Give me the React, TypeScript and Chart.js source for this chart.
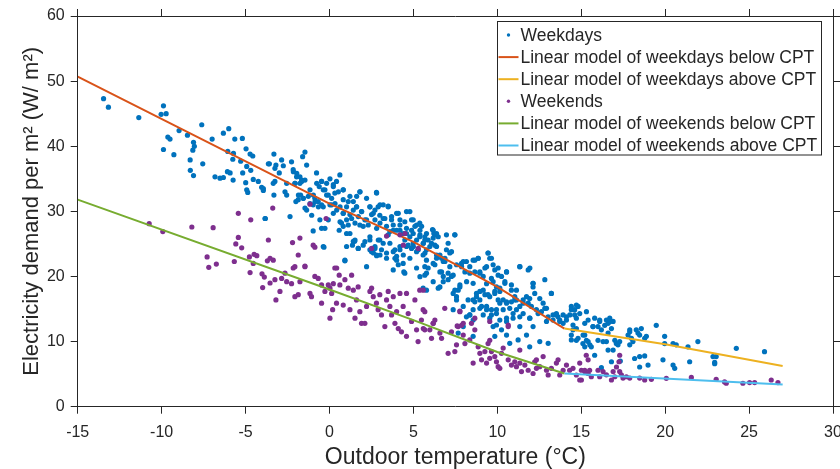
import React, { useEffect, useRef } from "react";
import { Chart, registerables } from "chart.js";

Chart.register(...registerables);

const FONT = "'Liberation Sans', Arial, Helvetica, sans-serif";
const INK = "#262626";

const xTickValues = [-15, -10, -5, 0, 5, 10, 15, 20, 25, 30];
const yTickValues = [0, 10, 20, 30, 40, 50, 60];

const weekdayPoints: [number, number][] = [
  [-13.46, 47.3], [-13.17, 46.0], [-11.36, 44.4], [-9.89, 46.2], [-10.03, 44.9], [-9.73, 45.0], [-8.96, 42.4], [-8.46, 41.7],
  [-7.61, 43.3], [-9.63, 41.4], [-9.5, 41.1], [-9.89, 39.5], [-9.27, 38.7], [-8.1, 40.6], [-8.05, 40.0], [-8.14, 39.4],
  [-8.3, 37.9], [-7.55, 37.3], [-8.29, 36.3], [-8.1, 35.5], [-6.99, 41.1], [-6.32, 42.0], [-6.0, 42.7], [-5.64, 41.1],
  [-5.19, 41.2], [-6.06, 39.2], [-5.72, 38.9], [-5.76, 38.0], [-4.97, 39.6], [-4.73, 38.8], [-4.57, 38.5], [-5.29, 37.7],
  [-6.82, 35.3], [-6.52, 35.1], [-6.32, 35.2], [-6.08, 36.1], [-5.92, 35.9], [-5.74, 34.8], [-5.17, 35.9], [-4.93, 36.9],
  [-4.69, 36.3], [-4.99, 34.4], [-4.93, 33.3], [-4.87, 32.9], [-4.54, 34.9], [-4.24, 34.6], [-4.04, 33.7], [-3.94, 33.2],
  [-3.64, 37.3], [-3.82, 28.9],
  [-3.31, 38.8], [-3.58, 37.3], [-3.19, 37.1], [-3.25, 36.6], [-2.85, 37.9], [-2.75, 37.0], [-2.99, 35.9], [-2.26, 37.6],
  [-2.16, 36.4], [-1.96, 35.3], [-2.06, 34.3], [-1.6, 38.4], [-1.46, 39.1], [-1.36, 37.1], [-1.66, 34.8], [-1.76, 34.3],
  [-1.72, 32.5], [-1.56, 32.0], [-1.86, 31.8], [-2.0, 31.5], [-2.55, 34.3], [-2.55, 32.5], [-2.65, 33.0], [-3.25, 34.6],
  [-3.35, 34.3], [-3.94, 33.5], [-3.84, 28.9], [-3.31, 32.5], [-2.35, 29.2], [-1.46, 30.5], [-0.97, 31.0], [-0.87, 32.0],
  [-0.77, 35.9], [-0.47, 34.6], [-0.61, 33.8], [-0.37, 33.3], [-0.17, 34.3], [0.03, 35.0], [0.23, 33.8], [0.62, 35.6],
  [0.42, 34.6], [0.82, 33.3], [0.32, 32.8], [-0.17, 32.5], [-0.67, 31.5], [-0.37, 30.7], [0.13, 31.0], [0.23, 29.7],
  [-0.07, 28.7], [-0.47, 27.4], [-0.97, 27.0], [-0.37, 24.6], [0.82, 31.8], [1.02, 30.7], [0.82, 29.7], [0.72, 28.2],
  [0.58, 27.1], [1.22, 32.3], [1.42, 31.5], [1.81, 33.0], [2.21, 32.0], [2.8, 32.9], [1.61, 30.7], [1.91, 29.96],
  [1.32, 28.9], [1.12, 27.9], [1.02, 26.6], [1.52, 28.2], [1.81, 27.9], [2.21, 28.7], [2.61, 29.7], [2.41, 30.7],
  [2.9, 30.7], [3.2, 31.0], [3.5, 30.8], [3.0, 29.4], [3.3, 28.9], [3.7, 28.7], [4.0, 29.7], [4.2, 28.7],
  [4.49, 28.4], [4.79, 29.96], [4.99, 28.7], [5.19, 27.9], [5.38, 28.2], [4.89, 27.1], [4.59, 26.6], [4.2, 27.1],
  [3.8, 27.1], [3.5, 26.4], [3.0, 25.6], [2.71, 24.6], [2.41, 24.1], [2.01, 24.8], [1.71, 24.3], [1.42, 25.4],
  [1.02, 24.6], [2.21, 21.5], [2.8, 23.3], [3.4, 22.8], [3.8, 23.8], [4.2, 24.1], [4.59, 24.6], [4.99, 25.1],
  [5.38, 26.1], [5.68, 25.6], [4.0, 22.5], [4.39, 22.0], [4.79, 22.8], [5.19, 23.8], [5.58, 23.3], [5.78, 22.5],
  [5.68, 21.5], [3.8, 21.0], [4.43, 20.7], [5.58, 18.2], [5.78, 20.5], [0.92, 22.5], [2.41, 25.6], [3.1, 24.1],
  [-0.33, 24.5], [0.92, 22.4], [1.37, 24.8], [1.5, 25.4], [2.62, 23.6], [2.81, 23.2], [3.9, 22.8], [4.1, 21.8],
  [4.49, 20.5], [5.19, 21.3], [5.0, 24.6],
  [-2.15, 36.1], [-1.95, 35.85], [-1.76, 35.3], [-2.05, 34.3], [-1.66, 34.6], [-1.46, 34.8], [-1.85, 32.5], [-1.56, 32.0],
  [-1.26, 32.3], [-1.16, 31.2], [-0.86, 31.5], [-0.66, 30.7], [-0.47, 31.0], [-0.76, 34.3], [-0.47, 34.6], [-0.27, 33.3],
  [-0.07, 32.5], [0.13, 32.0], [0.03, 31.0], [0.33, 31.2], [0.43, 30.2], [0.63, 30.7], [0.82, 29.7], [0.63, 28.4],
  [0.82, 27.7], [1.02, 28.7], [1.22, 29.5], [1.42, 30.2], [1.62, 30.7], [1.72, 29.2], [1.92, 29.96], [2.11, 28.7],
  [2.01, 27.7], [2.31, 27.9], [2.51, 29.5], [2.71, 28.7], [2.81, 27.4], [3.01, 28.2], [3.2, 28.9], [3.4, 27.7],
  [3.6, 26.9], [3.8, 27.9], [4.0, 27.1], [4.2, 27.9], [4.4, 26.6], [4.59, 27.4], [4.79, 26.1], [4.99, 26.6],
  [5.19, 25.6], [5.39, 26.4], [5.59, 25.1], [4.49, 25.6], [4.69, 24.8], [4.89, 24.3], [4.2, 24.6], [3.9, 24.1],
  [3.6, 25.1], [3.2, 25.1], [2.91, 25.6], [2.71, 24.3], [2.51, 23.8], [3.01, 23.3], [3.4, 23.6], [4.0, 23.1],
  [4.4, 23.3], [5.29, 24.1], [5.69, 23.6], [5.98, 24.6], [6.18, 25.9], [6.38, 26.6], [5.09, 27.7], [4.89, 28.7],
  [5.49, 27.7], [5.78, 26.6], [-1.16, 33.3], [-0.96, 32.5], [-1.36, 30.2], [-1.06, 29.4], [-0.57, 28.7], [-0.27, 27.4],
  [1.22, 26.6], [1.52, 25.6], [1.72, 24.3], [2.11, 25.35], [2.41, 26.1], [1.12, 31.5], [0.82, 33.3], [0.53, 33.0],
  [0.23, 34.1], [1.62, 32.3], [1.82, 33.0], [2.81, 32.8], [2.41, 30.7], [2.71, 30.2], [3.01, 31.0], [3.5, 30.7],
  [4.1, 29.7], [4.59, 29.96], [3.7, 29.2],
  [5.39, 27.1], [5.68, 26.1], [5.59, 25.1], [5.88, 25.6], [6.14, 27.2], [6.22, 26.6], [5.78, 24.1], [6.28, 24.8],
  [6.48, 26.1], [6.97, 26.4], [7.47, 26.4], [7.07, 25.1], [7.27, 23.8], [6.38, 23.3], [6.68, 22.8], [6.88, 22.3],
  [7.17, 21.5], [6.18, 22.0], [5.88, 21.3], [5.68, 20.2], [6.58, 20.7], [6.78, 20.0], [7.07, 19.5], [7.37, 20.2],
  [7.47, 17.9], [7.57, 16.9], [7.77, 18.4], [7.87, 22.0], [8.16, 22.3], [8.36, 21.5], [8.56, 22.5], [8.86, 22.8],
  [9.45, 23.6], [9.55, 22.8], [8.66, 20.7], [8.96, 20.5], [9.26, 21.3], [9.75, 21.8], [9.85, 21.0], [10.05, 20.2],
  [9.65, 19.7], [9.36, 18.9], [9.16, 17.9], [8.76, 17.4], [8.56, 16.4], [8.96, 16.4], [9.45, 17.2], [9.85, 17.7],
  [10.15, 18.2], [10.55, 20.7], [10.45, 19.2], [10.84, 18.7], [11.14, 17.9], [11.34, 21.5], [11.84, 21.0], [12.13, 18.95],
  [12.23, 17.4], [11.93, 16.6], [11.54, 16.4], [11.04, 16.4], [10.55, 16.1], [10.15, 15.9], [9.95, 14.9], [9.65, 14.1],
  [9.36, 14.9], [8.96, 15.1], [8.56, 14.9], [8.36, 14.1], [8.16, 13.8], [7.97, 12.3], [9.75, 12.3], [10.25, 11.8],
  [10.55, 11.0], [10.74, 9.73], [11.24, 10.25], [11.74, 11.0], [12.13, 12.3], [12.43, 14.3], [12.73, 15.9], [12.93, 15.1],
  [13.22, 17.4], [13.32, 13.3], [13.52, 14.1], [13.72, 13.3], [14.12, 13.8], [14.41, 14.9], [14.61, 14.1], [14.81, 15.4],
  [14.51, 11.8], [14.41, 10.25], [14.81, 10.5], [13.03, 9.73], [12.53, 10.0], [11.93, 9.2], [11.34, 12.3], [9.85, 10.8],
  [8.56, 10.8], [7.67, 11.3], [5.78, 17.9], [5.39, 19.97], [6.58, 18.4], [10.55, 13.6], [10.94, 14.3], [11.54, 14.3],
  [11.93, 13.6], [7.37, 14.9],
  [6.18, 27.1], [6.28, 26.4], [6.08, 25.1], [6.38, 24.6], [6.58, 23.3], [6.88, 22.8], [6.78, 22.3], [6.97, 24.1],
  [7.17, 23.6], [6.38, 22.8], [6.28, 21.8], [6.68, 20.7], [7.07, 20.5], [6.18, 19.2], [6.78, 19.2], [6.48, 18.2],
  [7.47, 26.4], [7.27, 20.0], [7.57, 21.8], [7.87, 21.5], [7.97, 22.3], [8.07, 20.7], [7.77, 18.7], [7.67, 17.9],
  [8.17, 19.2], [8.36, 20.5], [8.56, 18.95], [8.66, 22.5], [8.86, 22.8], [8.96, 20.7], [9.16, 20.0], [9.36, 21.5],
  [9.45, 23.6], [9.65, 22.8], [9.75, 19.2], [9.95, 18.4], [10.15, 17.7], [9.85, 17.4], [10.05, 21.3], [10.25, 20.0],
  [10.45, 18.95], [10.55, 20.7], [10.84, 17.9], [11.04, 16.9], [11.14, 16.4], [10.84, 16.1], [10.55, 15.9], [10.35, 16.4],
  [10.05, 16.4], [9.55, 16.9], [9.26, 17.2], [8.96, 17.7], [8.76, 16.9], [8.66, 16.1], [9.06, 15.4], [9.36, 15.4],
  [9.65, 14.9], [9.95, 14.3], [10.35, 14.9], [10.74, 15.1], [11.14, 14.9], [11.34, 15.4], [11.54, 15.9], [11.74, 16.9],
  [11.84, 15.9], [12.03, 15.4], [12.33, 14.9], [12.63, 14.6], [12.83, 15.1], [12.53, 16.6], [12.13, 18.4], [11.34, 21.5],
  [11.94, 21.3], [12.13, 18.95], [12.83, 19.5], [13.22, 17.4], [13.03, 13.8], [13.32, 14.1], [13.62, 13.8], [13.72, 13.1],
  [14.12, 13.3], [14.32, 14.1], [14.61, 14.9], [14.71, 13.6], [14.51, 12.55], [13.92, 12.8], [13.52, 14.3], [12.93, 13.1],
  [11.94, 13.6], [11.34, 13.8], [10.94, 13.6], [10.55, 13.1], [10.15, 13.3], [9.95, 12.55], [9.55, 13.6], [9.16, 14.1],
  [8.56, 13.3], [8.36, 14.1], [8.26, 16.4], [7.97, 15.4], [7.57, 16.4], [7.37, 17.4],
  [14.91, 14.3], [15.21, 12.8], [15.41, 13.3], [15.31, 14.6], [15.7, 12.3], [15.8, 13.6], [16.0, 12.3], [16.1, 13.1],
  [16.2, 11.8], [16.5, 13.3], [16.6, 12.8], [16.7, 13.6], [16.8, 12.0], [16.9, 13.1], [15.21, 11.0], [15.1, 9.7],
  [15.41, 10.0], [15.6, 9.2], [16.0, 10.2], [16.3, 10.0], [16.5, 10.0], [16.6, 8.7], [17.0, 10.2], [17.09, 9.7],
  [17.19, 9.5], [17.79, 11.0], [17.89, 11.8], [17.99, 10.5], [17.89, 9.5], [18.08, 10.0], [18.38, 11.3], [18.58, 12.0],
  [18.48, 11.0], [18.88, 10.8], [18.78, 10.5], [19.47, 12.5], [19.97, 10.8], [19.97, 9.7], [20.47, 9.7], [20.66, 9.5],
  [21.36, 9.2], [21.95, 10.0], [23.04, 7.7], [22.95, 6.8], [24.24, 8.96], [25.92, 8.45], [15.8, 7.9], [16.2, 6.0],
  [16.8, 6.9], [17.33, 7.0], [18.18, 7.4], [18.48, 6.1], [18.78, 7.8], [18.98, 6.4], [19.87, 7.2], [20.47, 6.4],
  [20.57, 5.9], [21.46, 6.9],
  [13.92, 14.1], [14.41, 15.4], [14.71, 15.6], [14.41, 11.0], [14.71, 10.2], [15.11, 11.0], [15.31, 10.2], [15.21, 9.2],
  [15.51, 9.5], [16.1, 13.3], [16.4, 12.5], [16.7, 13.05], [15.7, 12.3], [14.71, 12.0], [16.6, 11.3], [17.29, 10.0],
  [17.89, 11.5], [18.28, 11.8], [16.9, 8.7], [18.48, 7.7], [22.85, 7.7], [22.95, 6.6],
];

const weekendPoints: [number, number][] = [
  [-10.74, 28.1], [-9.93, 26.9], [-8.2, 27.6], [-6.93, 27.5], [-5.43, 29.7], [-4.69, 28.7], [-5.43, 26.0], [-5.58, 25.0],
  [-5.23, 24.4], [-7.29, 23.0], [-7.19, 21.4], [-6.74, 21.9], [-5.67, 22.3], [-4.77, 23.0], [-4.49, 23.4], [-4.33, 23.2],
  [-4.54, 22.0], [-4.73, 20.6], [-4.02, 20.4], [-3.88, 19.9], [-3.7, 22.4], [-3.98, 18.3], [-3.54, 19.0],
  [-3.25, 19.5], [-3.19, 16.4], [-2.85, 19.7], [-2.95, 17.7], [-2.65, 20.5], [-2.55, 19.2], [-2.26, 18.9], [-2.16, 21.3],
  [-2.06, 16.9], [-1.86, 17.2], [-1.76, 19.2], [-1.46, 21.5], [-1.16, 17.4], [-1.07, 16.9], [-0.87, 20.0], [-0.67, 19.7],
  [-0.47, 18.7], [-0.47, 15.9], [-0.27, 17.7], [-0.07, 18.7], [0.03, 18.2], [0.03, 13.6], [0.13, 17.4], [0.23, 18.9],
  [0.32, 21.3], [0.19, 14.9], [0.42, 15.9], [0.58, 20.2], [0.62, 18.7], [0.82, 15.6], [0.92, 19.5], [1.12, 18.2],
  [1.22, 14.9], [1.32, 20.2], [1.42, 17.9], [1.61, 16.4], [1.71, 18.4], [1.81, 14.6], [1.52, 13.6], [1.91, 12.8],
  [2.11, 12.8], [2.21, 15.4], [2.41, 17.7], [2.51, 18.2], [2.61, 16.9], [2.8, 15.9], [2.9, 14.9], [3.0, 17.2],
  [3.1, 14.1], [3.3, 12.3], [3.4, 16.4], [3.5, 17.7], [3.6, 15.4], [3.7, 14.1], [3.8, 16.9], [3.9, 12.8],
  [4.0, 14.6], [4.1, 12.0], [4.2, 17.4], [4.29, 11.5], [4.39, 15.4], [4.59, 17.4], [4.59, 10.8], [4.69, 14.3],
  [4.89, 13.1], [5.09, 16.4], [5.19, 11.8], [5.28, 10.0], [5.38, 17.9], [5.48, 13.3], [5.58, 14.9], [5.68, 11.8],
  [-3.38, 30.5], [-3.64, 25.6], [-2.2, 25.2], [-1.76, 25.9], [-0.97, 24.8], [-0.87, 24.5], [-0.2, 28.9], [-1.16, 31.1],
  [-1.86, 23.3], [-2.06, 21.5], [-3.54, 22.8], [-3.35, 22.5], [4.2, 26.4], [4.5, 26.6], [3.4, 26.2],
  [2.51, 24.3], [5.29, 24.3], [4.4, 24.8], [0.43, 21.3], [-1.46, 21.6],
  [7.77, 14.6], [8.66, 13.6], [7.97, 12.8], [6.28, 13.3], [6.18, 12.8], [9.55, 13.1], [10.65, 12.55], [7.67, 12.3],
  [5.59, 12.0], [5.98, 11.8], [6.18, 12.8], [6.08, 10.5], [6.58, 11.3], [6.68, 10.5], [7.07, 8.2], [7.47, 8.46],
  [7.57, 9.5], [7.87, 12.5], [7.97, 11.0], [8.07, 9.7], [8.36, 10.25], [8.56, 6.7], [8.66, 11.8], [8.86, 9.2],
  [8.96, 8.2], [9.06, 7.2], [9.26, 8.46], [9.36, 6.7], [9.45, 9.7], [9.55, 7.43], [9.65, 8.46], [9.85, 7.7],
  [9.95, 6.9], [10.05, 6.15], [10.15, 5.9], [10.25, 8.2], [10.35, 9.0], [10.65, 7.2], [10.84, 6.4], [11.04, 6.9],
  [11.14, 6.15], [11.34, 6.7], [11.44, 5.4], [11.64, 6.4], [11.84, 5.6], [12.13, 5.1], [12.23, 6.9], [12.33, 5.9],
  [12.53, 6.15], [12.73, 7.7], [12.93, 5.6], [13.03, 4.87], [13.22, 5.9], [13.52, 6.7], [13.62, 7.2], [13.72, 4.87],
  [13.92, 5.6], [14.12, 6.4], [14.31, 5.6], [14.51, 5.9], [14.71, 4.87], [14.91, 6.7], [15.01, 4.1], [15.21, 5.6],
  [15.41, 5.1],
  [5.59, 17.9], [5.68, 14.6], [6.87, 15.1], [7.77, 14.7], [7.61, 12.4], [7.27, 11.5], [8.46, 12.8], [9.55, 10.2],
  [10.65, 12.3], [11.34, 8.7], [12.33, 7.2], [15.3, 7.9], [15.41, 7.2], [17.29, 7.9], [17.25, 6.9], [17.1, 6.1],
  [15.01, 5.6], [15.21, 5.4], [15.5, 5.6], [16.0, 5.6], [16.3, 5.4], [16.5, 4.9], [16.9, 5.4], [17.0, 4.6],
  [17.29, 5.4], [17.39, 4.9], [17.69, 4.6], [17.89, 4.4], [18.48, 4.4], [18.78, 4.1], [19.18, 4.2], [20.07, 4.35],
  [21.56, 4.5], [23.04, 4.2], [23.54, 3.8], [23.64, 3.6], [24.63, 3.6], [25.03, 3.7], [25.33, 3.7], [26.32, 4.1],
  [26.72, 3.7], [14.91, 4.1], [15.6, 4.6], [16.1, 4.6], [16.8, 4.1], [17.49, 4.4],
];

const weekdayBelowCPT: [number, number][] = [[-15, 50.7], [0, 31.2], [5, 25.3], [10, 18.4], [14, 12.0]];
const weekdayAboveCPT: [number, number][] = [[14, 12.0], [20, 9.6], [27, 6.25]];
const weekendBelowCPT: [number, number][] = [[-15, 31.8], [0, 18.0], [5, 13.3], [10, 8.4], [14, 5.1]];
const weekendAboveCPT: [number, number][] = [[14, 5.1], [27, 3.4]];

const toXY = (arr: [number, number][]) => arr.map(([x, y]) => ({ x, y }));

const insetLegend = {
  id: "insetLegend",
  afterDatasetsDraw(chart: any) {
    const { ctx, chartArea } = chart;
    const w = 325;
    const h = 134.5;
    const left = chartArea.right - 11.5 - w;
    const top = chartArea.top + 5.3;
    ctx.save();
    ctx.fillStyle = "#ffffff";
    ctx.fillRect(left, top, w, h);
    ctx.strokeStyle = INK;
    ctx.lineWidth = 1;
    ctx.strokeRect(Math.round(left) + 0.5, Math.round(top) + 0.5, w - 1, h - 1);
    ctx.font = `17.5px ${FONT}`;
    ctx.textBaseline = "middle";
    ctx.textAlign = "left";
    chart.data.datasets.forEach((ds: any, i: number) => {
      const cy = top + 13.7 + i * 22.1;
      if (ds.showLine) {
        ctx.strokeStyle = ds.borderColor;
        ctx.lineWidth = 2;
        ctx.beginPath();
        ctx.moveTo(left + 2, cy);
        ctx.lineTo(left + 22, cy);
        ctx.stroke();
      } else {
        ctx.fillStyle = ds.backgroundColor;
        ctx.beginPath();
        ctx.arc(left + 12, cy, 1.7, 0, Math.PI * 2);
        ctx.fill();
      }
      ctx.fillStyle = INK;
      ctx.fillText(ds.label, left + 24, cy + 1);
    });
    ctx.restore();
  },
};

export default function App() {
  const canvasRef = useRef<HTMLCanvasElement | null>(null);

  useEffect(() => {
    document.body.style.margin = "0";
    const canvas = canvasRef.current;
    if (!canvas) return;

    const scatterDs = (label: string, data: [number, number][], color: string, order: number) => ({
      label,
      data: toXY(data),
      backgroundColor: color,
      borderColor: color,
      borderWidth: 0,
      pointRadius: 2.6,
      pointHoverRadius: 2.6,
      showLine: false,
      order,
    });
    const lineDs = (label: string, data: [number, number][], color: string, order: number) => ({
      label,
      data: toXY(data),
      borderColor: color,
      backgroundColor: color,
      borderWidth: 2,
      pointRadius: 0,
      showLine: true,
      fill: false,
      tension: 0,
      order,
    });

    const tickFont = { family: FONT, size: 16 };
    const frameAxis = (axis: "x" | "y", position: string) => ({
      type: "linear" as const,
      position,
      min: axis === "x" ? -15 : 0,
      max: axis === "x" ? 30 : 60,
      ticks: { display: false, stepSize: axis === "x" ? 5 : 10 },
      grid: { drawOnChartArea: false, drawTicks: true, tickLength: 7, color: INK, tickColor: INK, tickWidth: 1 },
      border: { display: true, color: INK, width: 1 },
      afterFit: (scale: any) => {
        if (axis === "x") scale.height = 16;
        else scale.width = 7;
        scale.paddingLeft = 0;
        scale.paddingRight = 0;
        scale.paddingTop = 0;
        scale.paddingBottom = 0;
      },
    });

    const chart = new Chart(canvas, {
      type: "scatter",
      data: {
        datasets: [
          scatterDs("Weekdays", weekdayPoints, "#0072BD", 6),
          lineDs("Linear model of weekdays below CPT", weekdayBelowCPT, "#D95319", 5),
          lineDs("Linear model of weekdays above CPT", weekdayAboveCPT, "#EDB120", 4),
          scatterDs("Weekends", weekendPoints, "#7E2F8E", 3),
          lineDs("Linear model of weekends below CPT", weekendBelowCPT, "#77AC30", 2),
          lineDs("Linear model of weekends above CPT", weekendAboveCPT, "#4DBEEE", 1),
        ] as any,
      },
      options: {
        animation: false,
        responsive: false,
        maintainAspectRatio: false,
        layout: { padding: 0 },
        plugins: { legend: { display: false }, tooltip: { enabled: false } },
        scales: {
          x: {
            type: "linear",
            position: "bottom",
            min: -15,
            max: 30,
            afterBuildTicks: (scale: any) => {
              scale.ticks = xTickValues.map((v) => ({ value: v }));
            },
            ticks: { font: tickFont, color: INK, padding: 9, maxRotation: 0, autoSkip: false },
            grid: { drawOnChartArea: false, drawTicks: true, tickLength: 7, color: INK, tickColor: INK },
            border: { display: true, color: INK, width: 1 },
            title: {
              display: true,
              text: "Outdoor temperature (°C)",
              font: { family: FONT, size: 23, lineHeight: 1 },
              color: INK,
              padding: { top: 0, bottom: 0 },
            },
            afterFit: (scale: any) => {
              scale.height = 62.3;
              scale.paddingLeft = 0;
              scale.paddingRight = 0;
            },
          },
          y: {
            type: "linear",
            position: "left",
            min: 0,
            max: 60,
            afterBuildTicks: (scale: any) => {
              scale.ticks = yTickValues.map((v) => ({ value: v }));
            },
            ticks: { font: tickFont, color: INK, padding: 6, autoSkip: false },
            grid: { drawOnChartArea: false, drawTicks: true, tickLength: 7, color: INK, tickColor: INK },
            border: { display: true, color: INK, width: 1 },
            title: {
              display: true,
              text: "Electricity demand per m² (W/ m²)",
              font: { family: FONT, size: 22, lineHeight: 1 },
              color: INK,
              padding: { top: 21, bottom: 0 },
            },
            afterFit: (scale: any) => {
              scale.width = 77.7;
              scale.paddingTop = 0;
              scale.paddingBottom = 0;
            },
          },
          x2: frameAxis("x", "top"),
          y2: frameAxis("y", "right"),
        } as any,
      },
      plugins: [insetLegend],
    });

    return () => chart.destroy();
  }, []);

  return (
    <div style={{ width: 840, height: 469, position: "relative", background: "#fff" }}>
      <canvas ref={canvasRef} width={840} height={469} style={{ display: "block" }} />
    </div>
  );
}
